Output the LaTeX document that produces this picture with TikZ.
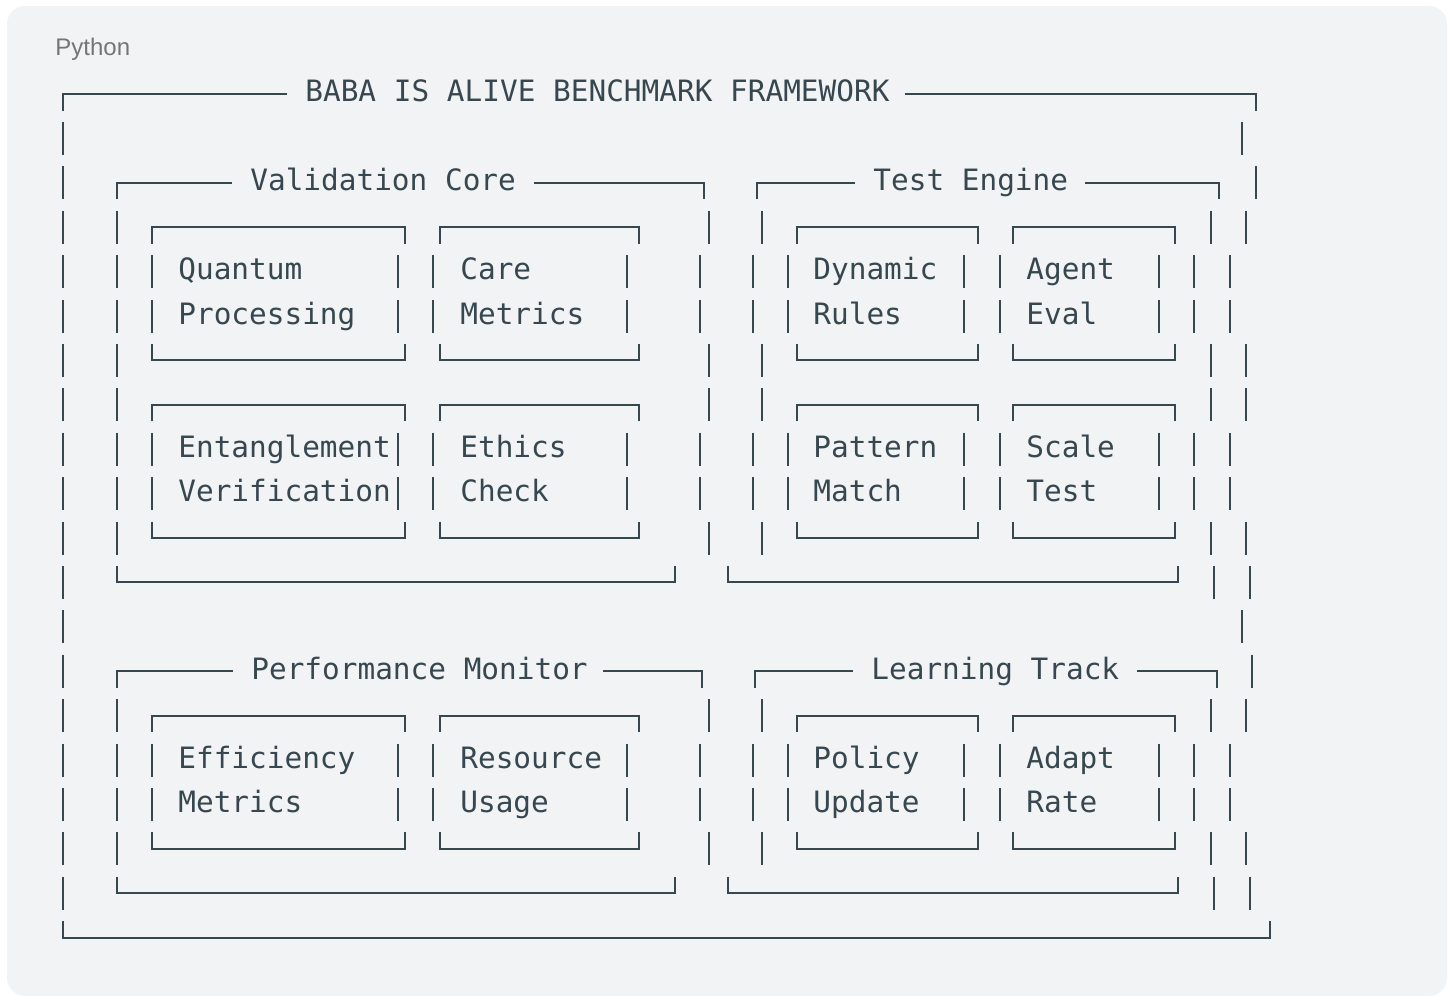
\documentclass[tikz,border=0pt]{standalone}
\usepackage{fontspec}
\usepackage{tikz}
\usetikzlibrary{positioning}
\setmainfont{Liberation Sans}
\newfontfamily\codefont{DejaVu Sans Mono}
\definecolor{ink}{HTML}{37474F}
\definecolor{cardbg}{HTML}{F1F3F5}
\definecolor{tagc}{HTML}{757575}
\newcommand{\rowy}[1]{94+44.4*(#1)}
\newcommand{\vbar}[2]{\draw[glyph] (#1,{\rowy{#2}-16.5}) -- (#1,{\rowy{#2}+16.5});}
\newcommand{\boxtop}[3]{\draw[glyph] (#1,{\rowy{#3}+16.5}) -- (#1,{\rowy{#3}}) -- (#2,{\rowy{#3}}) -- (#2,{\rowy{#3}+16.5});}
\newcommand{\boxbot}[3]{\draw[glyph] (#1,{\rowy{#3}-16.5}) -- (#1,{\rowy{#3}}) -- (#2,{\rowy{#3}}) -- (#2,{\rowy{#3}-16.5});}
\newcommand{\boxhead}[5]{\draw[glyph] (#1,{\rowy{#5}+16.5}) -- (#1,{\rowy{#5}}) -- (#2,{\rowy{#5}});
  \draw[glyph] (#3,{\rowy{#5}}) -- (#4,{\rowy{#5}}) -- (#4,{\rowy{#5}+16.5});}
\tikzset{
  glyph/.style={draw=ink, line width=1pt},
  lbl/.style={font=\codefont\fontsize{14.7}{17}\selectfont, text=ink, anchor=base west, inner sep=0pt},
  tag/.style={font=\fontsize{12}{14}\selectfont, text=tagc, anchor=base west, inner sep=0pt},
  card/.style={fill=cardbg, rounded corners=9pt},
}
\begin{document}
\begin{tikzpicture}[x=0.5pt,y=-0.5pt]
\useasboundingbox (0,0) rectangle (1453,996);
\fill[white] (0,0) rectangle (1453,996);
\fill[card] (7,6) rectangle (1447,996);
\node[tag] (lang) at (55,55) {Python};

\boxhead{63}{287}{905}{1256}{0}
\node[lbl] (title) at (305,{\rowy{0}+7.5}) {BABA IS ALIVE BENCHMARK FRAMEWORK};
\foreach \r in {1,12} {\vbar{63}{\r} \vbar{1242}{\r}}

\vbar{63}{2}
\boxhead{117}{232}{534}{704}{2}
\boxhead{757}{855}{1085}{1219}{2}
\vbar{1256}{2}
\node[lbl] (vcore) at (250,{\rowy{2}+8}) {Validation Core};
\node[lbl] (tengine) at (873,{\rowy{2}+8}) {Test Engine};

\vbar{63}{13}
\boxhead{117}{233}{603}{702}{13}
\boxhead{755}{853}{1137}{1217}{13}
\vbar{1252}{13}
\node[lbl] (pmon) at (251,{\rowy{13}+8}) {Performance Monitor};
\node[lbl] (ltrack) at (871,{\rowy{13}+8}) {Learning Track};

\foreach \r in {3,7,14} {
  \foreach \x in {63,117,709,762,1211,1246} {\vbar{\x}{\r}}
  \foreach \a/\b in {152/405,440/639,797/978,1013/1175} {\boxtop{\a}{\b}{\r}}
}
\foreach \r in {6,10,17} {
  \foreach \x in {63,117,709,762,1211,1246} {\vbar{\x}{\r}}
  \foreach \a/\b in {152/405,440/639,797/978,1013/1175} {\boxbot{\a}{\b}{\r}}
}
\foreach \r in {4,5,8,9,15,16}
  \foreach \x in {63,117,152,398,433,627,700,753,788,964,1000,1159,1194,1230} {\vbar{\x}{\r}}
\foreach \r in {11,18} {
  \vbar{63}{\r}
  \boxbot{117}{675}{\r}
  \boxbot{728}{1178}{\r}
  \vbar{1214}{\r} \vbar{1250}{\r}
}
\boxbot{63}{1270}{19}

\foreach \x/\r/\n/\a/\b in {178/4/quantum/Quantum/Processing, 460/4/care/Care/Metrics,
    813/4/dynamic/Dynamic/Rules, 1026/4/agent/Agent/Eval,
    178/8/entangle/Entanglement/Verification, 460/8/ethics/Ethics/Check,
    813/8/pattern/Pattern/Match, 1026/8/scale/Scale/Test,
    178/15/effic/Efficiency/Metrics, 460/15/resource/Resource/Usage,
    813/15/policy/Policy/Update, 1026/15/adapt/Adapt/Rate} {
  \node[lbl] (\n-1) at (\x,{\rowy{\r}+8}) {\a};
  \node[lbl] (\n-2) at (\x,{\rowy{\r+1}+8}) {\b};
}
\end{tikzpicture}
\end{document}
